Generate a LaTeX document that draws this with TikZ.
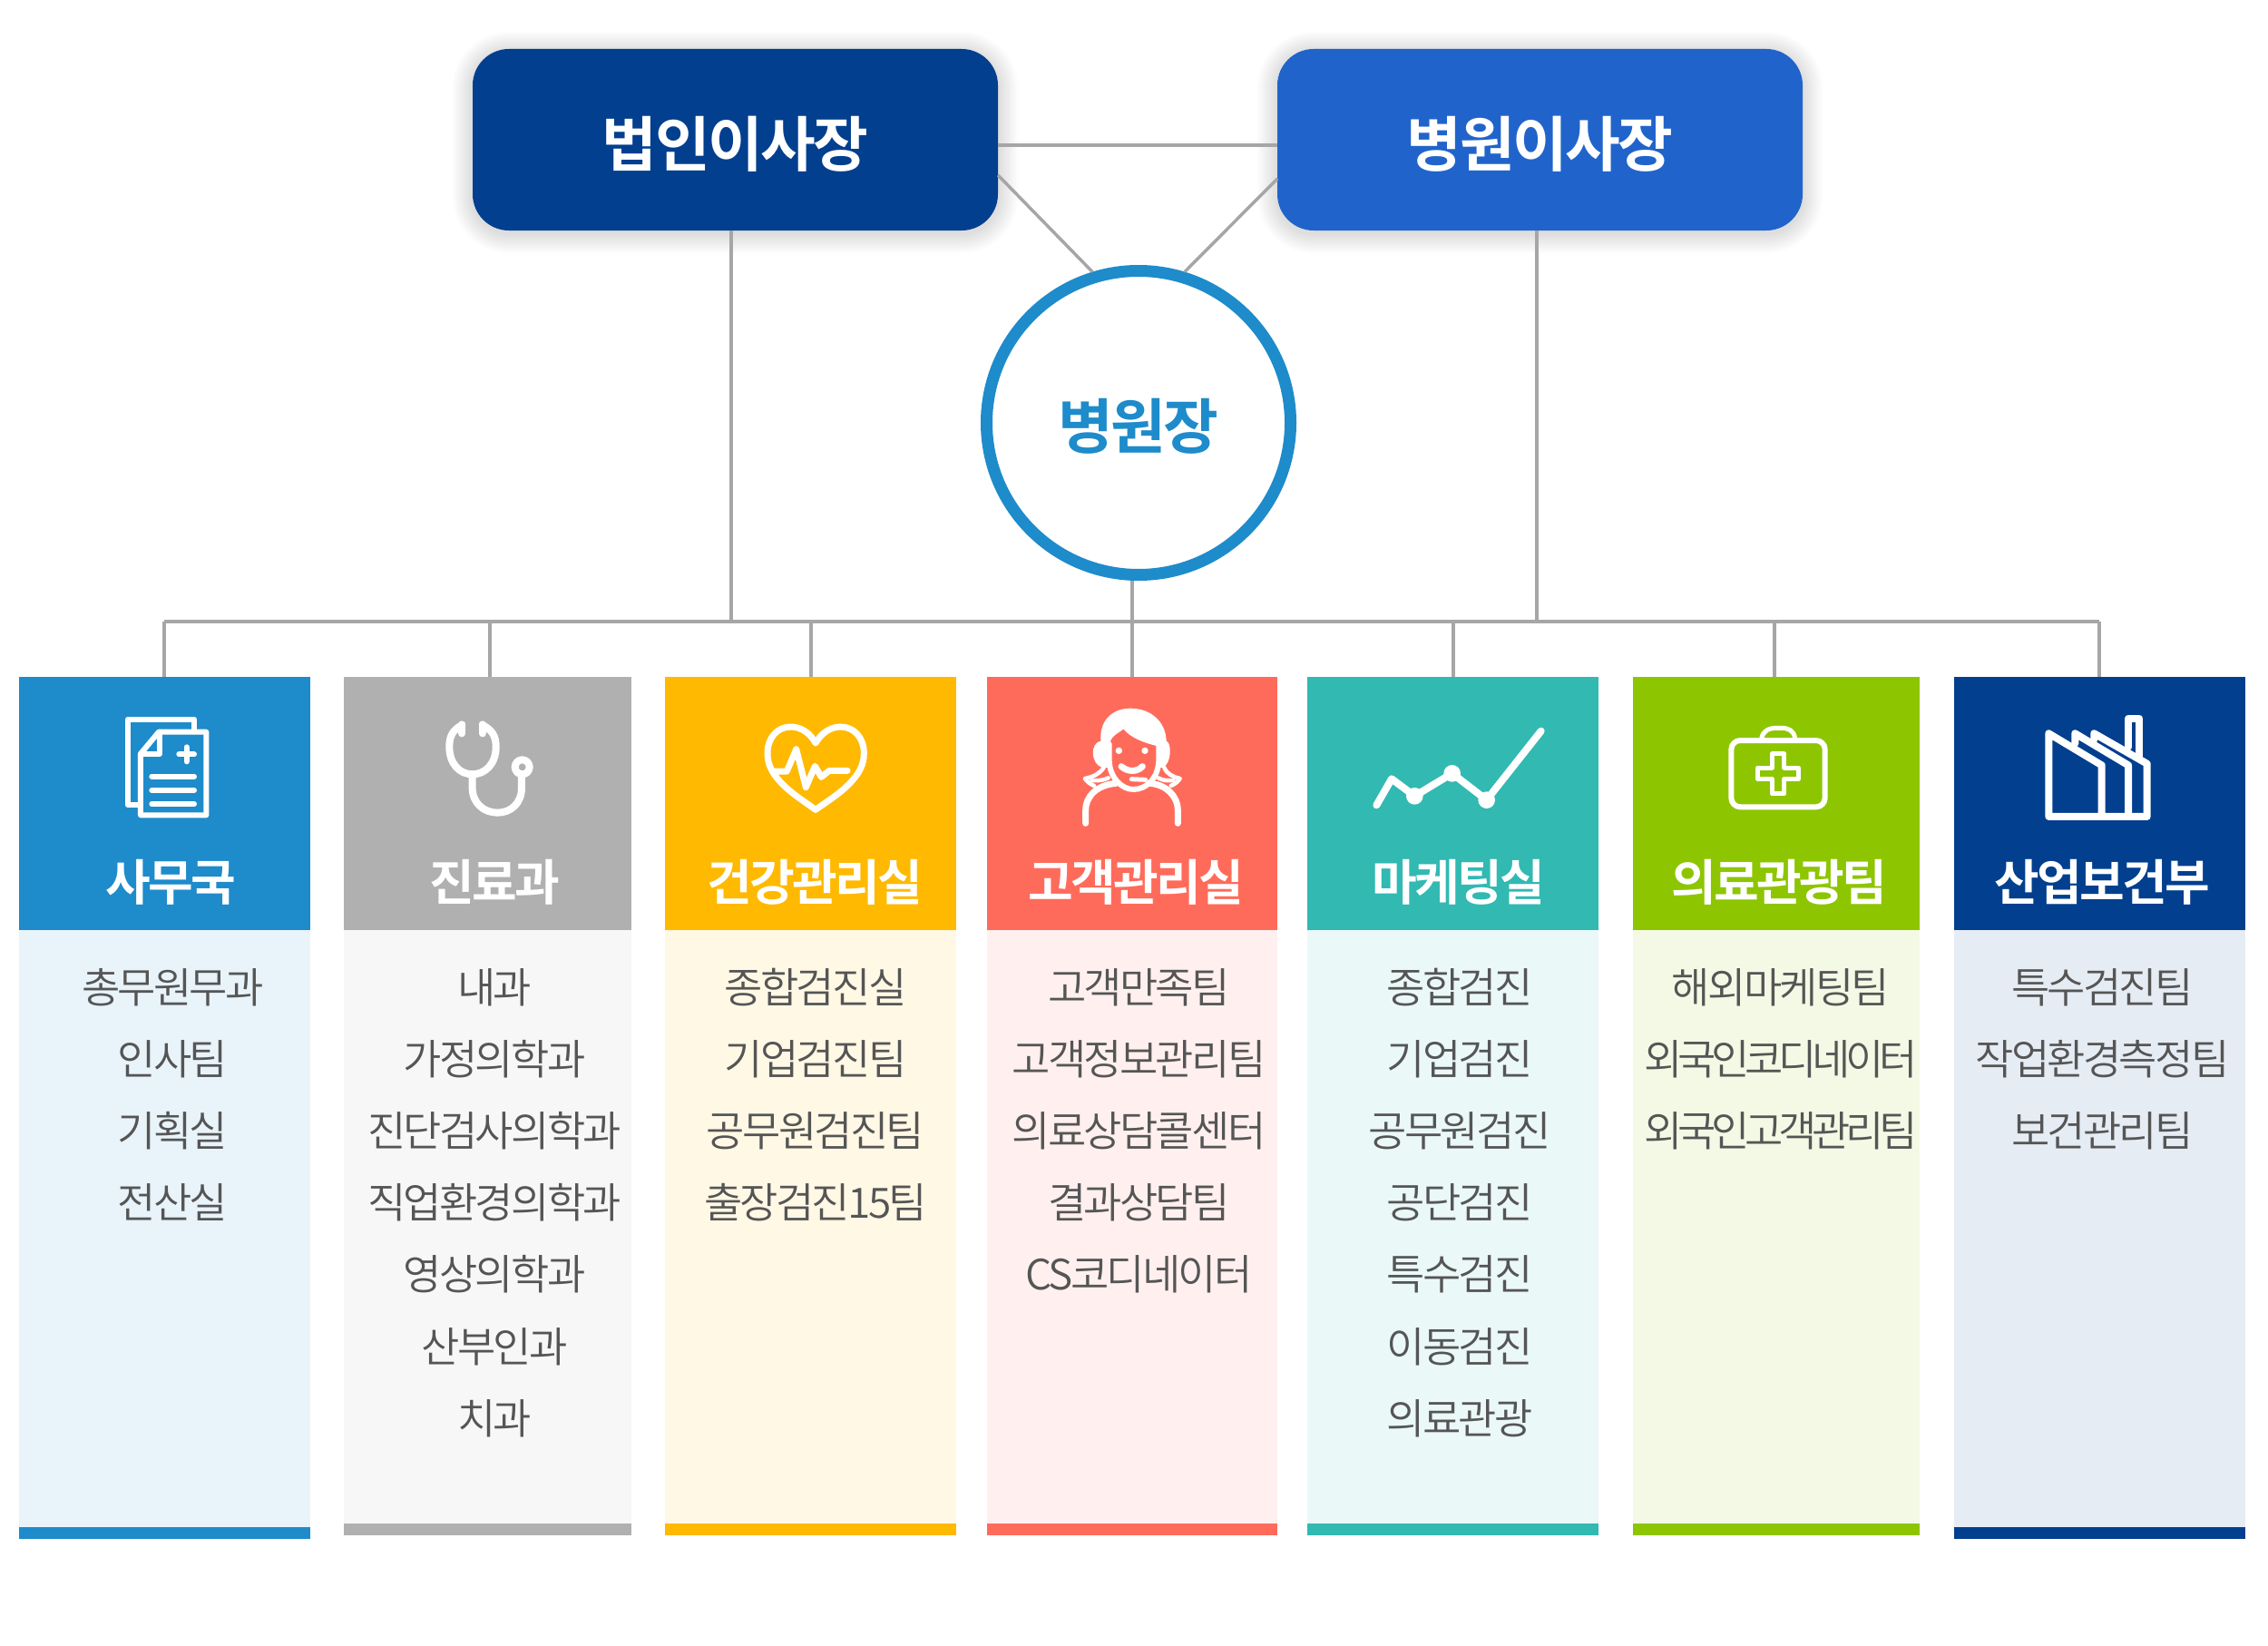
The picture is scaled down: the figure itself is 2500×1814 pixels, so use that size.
\documentclass[tikz,border=0pt]{standalone}
\usepackage{fontspec}
\newfontfamily\itemfont{Noto Sans CJK KR DemiLight}[LetterSpace=-6]
\newfontfamily\tightfont{Noto Sans CJK KR DemiLight}[LetterSpace=-11.5]
\newfontfamily\headfont{Noto Sans CJK KR Bold}[LetterSpace=-5]
\newfontfamily\bossfont{Noto Sans CJK KR Bold}[LetterSpace=-4]
\usetikzlibrary{calc}
\definecolor{linegray}{HTML}{A6A6A6}
\definecolor{navy}{HTML}{023F8F}
\definecolor{royal}{HTML}{2064CB}
\definecolor{sky}{HTML}{1E8BCB}
\definecolor{silver}{HTML}{B0B0B0}
\definecolor{amber}{HTML}{FFB900}
\definecolor{coral}{HTML}{FF6B5B}
\definecolor{teal}{HTML}{31B9B2}
\definecolor{lime}{HTML}{8DC600}
\definecolor{itemgray}{HTML}{555555}
\def\softshadow(#1,#2,#3,#4){\foreach \g in {2,4,...,22}{\fill[black,opacity=0.012,rounded corners=40pt+\g pt] (#1-\g,#2-\g+3) rectangle (#3+\g,#4+\g+3);}}
\tikzset{
	link/.style={draw=linegray,line width=3.5pt},
	boss/.style={rectangle,rounded corners=40pt,text=white,minimum width=579pt,minimum height=200pt,inner sep=0pt,outer sep=0pt,text height=68pt,text depth=8pt,font=\fontsize{66}{66}\bossfont},
	head/.style={rectangle,inner sep=0pt,outer sep=0pt,minimum height=279pt,anchor=north},
	title/.style={text=white,inner sep=0pt,text height=.88em,text depth=.12em,font=\fontsize{54}{54}\headfont},
	item/.style={text=itemgray,inner sep=0pt,text height=.88em,text depth=.12em,font=\fontsize{46}{46}\itemfont},
	icon/.style={draw=white,line cap=round,line join=round,line width=#1}
}
\begin{document}
\begin{tikzpicture}[x=1pt,y=-1pt]
			\useasboundingbox (0,0) rectangle (2500,1814);
			
			\softshadow(521,54,1100,254)
			\softshadow(1408,54,1987,254)
			
			% top of the chart
			\node[boss,fill=navy] (corp) at (810.5,154) {법인이사장};
			\node[boss,fill=royal] (chair) at (1697.5,154) {병원이사장};
			\node[circle,draw=sky,line width=13pt,fill=white,minimum size=335pt,inner sep=0pt,text=sky,text height=64pt,text depth=8pt,font=\fontsize{66}{66}\bossfont] (director) at (1255,466) {병원장};
			
			% the seven heads
			\node[head,fill=sky,minimum width=321pt] (head1) at (181.5,746) {};
			\node[head,fill=silver,minimum width=317pt] (head2) at (537.5,746) {};
			\node[head,fill=amber,minimum width=321pt] (head3) at (893.5,746) {};
			\node[head,fill=coral,minimum width=320.5pt] (head4) at (1247.75,746) {};
			\node[head,fill=teal,minimum width=320.5pt] (head5) at (1601.25,746) {};
			\node[head,fill=lime,minimum width=316pt] (head6) at (1958,746) {};
			\node[head,fill=navy,minimum width=321pt] (head7) at (2314,746) {};
			
			% bus and its drops
			\coordinate (drop1) at (181,685);
			\coordinate (drop2) at (540,685);
			\coordinate (drop3) at (894,685);
			\coordinate (drop4) at (1248,685);
			\coordinate (drop5) at (1602,685);
			\coordinate (drop6) at (1956,685);
			\coordinate (drop7) at (2314,685);
			\coordinate (corpdrop) at (806,685);
			\coordinate (chairdrop) at (1694,685);
			\coordinate (corpside) at (1100,193);
			\coordinate (chairside) at (1408,197);
			
			\draw[link,line width=4.5pt] (corp.east |- 0,160) -- (chair.west |- 0,160);
			\draw[link] (corpside) -- (director.107);
			\draw[link] (chairside) -- (director.73);
			\draw[link] (corpdrop |- corp.south) -- (corpdrop);
			\draw[link] (chairdrop |- chair.south) -- (chairdrop);
			\draw[link] (drop4 |- director.south) -- (drop4);
			\draw[link,line width=4.5pt] (drop1) -- (drop7);
			\foreach \n in {1,...,7}{
				\draw[link] (drop\n) -- (drop\n |- head\n.north);
			}
			
			% bodies and feet
			\fill[color=sky!10] (21,1025) rectangle (342,1683);
			\fill[color=sky] (21,1683) rectangle (342,1696);
			\fill[color=silver!10] (379,1025) rectangle (696,1679);
			\fill[color=silver] (379,1679) rectangle (696,1692);
			\fill[color=amber!10] (733,1025) rectangle (1054,1679);
			\fill[color=amber] (733,1679) rectangle (1054,1692);
			\fill[color=coral!10] (1087.5,1025) rectangle (1408,1679);
			\fill[color=coral] (1087.5,1679) rectangle (1408,1692);
			\fill[color=teal!10] (1441,1025) rectangle (1761.5,1679);
			\fill[color=teal] (1441,1679) rectangle (1761.5,1692);
			\fill[color=lime!10] (1800,1025) rectangle (2116,1679);
			\fill[color=lime] (1800,1679) rectangle (2116,1692);
			\fill[color=navy!10] (2153.5,1025) rectangle (2474.5,1683);
			\fill[color=navy] (2153.5,1683) rectangle (2474.5,1696);
			
			% titles
			\node[title] (title1) at (188,989) {사무국};
			\node[title] (title2) at (545,989) {진료과};
			\node[title] (title3) at (898.5,989) {건강관리실};
			\node[title] (title4) at (1252.5,989) {고객관리실};
			\node[title] (title5) at (1607.5,989) {마케팅실};
			\node[title] (title6) at (1961.5,989) {의료관광팀};
			\node[title] (title7) at (2317,989) {산업보건부};
			
			% lists
			\foreach \t [count=\i] in {총무원무과,인사팀,기획실,전산실}{
				\node[item] (a\i) at (190.5,{1022+79.2*\i}) {\t};
			}
			\foreach \t [count=\i] in {내과,가정의학과,진단검사의학과,직업환경의학과,영상의학과,산부인과,치과}{
				\node[item] (b\i) at (545,{1022+79.2*\i}) {\t};
			}
			\foreach \t [count=\i] in {종합검진실,기업검진팀,공무원검진팀,출장검진15팀}{
				\node[item] (c\i) at (899,{1022+79.2*\i}) {\t};
			}
			\foreach \t [count=\i] in {고객만족팀,고객정보관리팀,의료상담콜센터,결과상담팀,CS코디네이터}{
				\node[item] (d\i) at (1255.5,{1022+79.2*\i}) {\t};
			}
			\foreach \t [count=\i] in {종합검진,기업검진,공무원검진,공단검진,특수검진,이동검진,의료관광}{
				\node[item] (e\i) at (1609,{1022+79.2*\i}) {\t};
			}
			\node[item] (f1) at (1963,1101.2) {해외마케팅팀};
			\node[item,font=\fontsize{46}{46}\tightfont] (f2) at (1963,1180.4) {외국인코디네이터};
			\node[item,font=\fontsize{46}{46}\tightfont] (f3) at (1963,1259.6) {외국인고객관리팀};
			\foreach \t [count=\i] in {특수검진팀,작업환경측정팀,보건관리팀}{
				\node[item] (g\i) at (2317.5,{1022+79.2*\i}) {\t};
			}
			
			% papers
			\begin{scope}[shift={(120,780)},x=0.3333pt,y=-0.3333pt]
				\draw[icon=6pt] (100,322) -- (62,322) -- (62,38) -- (282,38) -- (282,78);
				\draw[icon=6pt] (105,152) -- (165,80) -- (322,80) -- (322,355) -- (105,355) -- cycle;
				\draw[icon=6pt] (105,152) -- (168,152) -- (168,80);
				\draw[icon=6pt] (257,130) -- (257,178) (232,154) -- (282,154);
				\draw[icon=6pt] (142,227) -- (282,227) (142,273) -- (282,273) (142,318) -- (282,318);
			\end{scope}
			
			% stethoscope
			\begin{scope}[shift={(480,785)},x=0.3333pt,y=-0.3333pt]
				\draw[icon=8pt] (88,40) -- (88,70);
				\draw[icon=8pt] (155,40) -- (155,70);
				\draw[icon=8pt] (88,42) .. controls (55,60) and (46,80) .. (46,115) .. controls (46,170) and (80,205) .. (122,205) .. controls (165,205) and (200,170) .. (200,115) .. controls (200,80) and (190,60) .. (155,42);
				\draw[icon=8pt] (122,205) -- (122,250) .. controls (122,300) and (160,332) .. (205,332) .. controls (250,332) and (285,300) .. (285,250) -- (285,208);
				\draw[icon=8pt] (287,181) circle (24);
			\end{scope}
			
			% heart
			\begin{scope}[shift={(830,785)},x=0.3333pt,y=-0.3333pt]
				\draw[icon=7pt] (207,102) .. controls (190,70) and (160,48) .. (125,48) .. controls (80,48) and (48,85) .. (48,135) .. controls (48,175) and (65,205) .. (100,240) .. controls (130,270) and (170,295) .. (207,322) .. controls (245,295) and (285,270) .. (315,240) .. controls (350,205) and (367,175) .. (367,135) .. controls (367,85) and (335,48) .. (290,48) .. controls (255,48) and (225,70) .. cycle;
				\draw[icon=7pt] (65,195) -- (112,195) -- (143,122) -- (175,248) -- (205,178) -- (226,214) -- (252,193) -- (312,193);
			\end{scope}
			
			% woman
			\begin{scope}[shift={(1170,770)},x=0.3333pt,y=-0.3333pt]
				\fill[white] (130,140) .. controls (125,70) and (170,32) .. (228,32) .. controls (295,32) and (345,75) .. (347,140) .. controls (365,145) and (365,215) .. (335,228) -- (322,228) -- (322,158) .. controls (270,145) and (230,130) .. (205,100) .. controls (190,115) and (160,120) .. (158,160) -- (158,228) -- (135,228) .. controls (95,215) and (95,145) .. cycle;
				\draw[icon=6pt] (158,150) -- (158,205) .. controls (160,262) and (200,300) .. (238,300) .. controls (282,300) and (320,262) .. (322,205) -- (322,155);
				\draw[icon=4.5pt] (140,228) .. controls (125,250) and (105,258) .. (78,264) .. controls (85,275) and (95,282) .. (108,288);
				\draw[icon=4.5pt] (100,270) .. controls (120,272) and (140,270) .. (155,262);
				\draw[icon=4.5pt] (340,228) .. controls (350,250) and (368,258) .. (392,264) .. controls (385,275) and (375,282) .. (362,288);
				\draw[icon=4.5pt] (370,270) .. controls (350,272) and (335,270) .. (320,262);
				\draw[icon=7pt] (80,412) -- (80,370) .. controls (80,320) and (120,285) .. (180,280);
				\draw[icon=7pt] (385,412) -- (385,370) .. controls (385,320) and (345,285) .. (295,280);
				\draw[icon=7pt] (198,224) .. controls (220,243) and (250,243) .. (268,224);
				\fill[white] (190,172) circle (11) (276,172) circle (11);
				\draw[icon=5pt] (232,266) -- (278,268);
			\end{scope}
			
			% chart
			\begin{scope}[shift={(1510,790)},x=0.3333pt,y=-0.3333pt]
				\draw[icon=8pt] (22,292) -- (72,205) -- (148,262) -- (272,187) -- (386,275) -- (566,47);
				\fill[white] (148,262) circle (28) (272,187) circle (28) (386,275) circle (28);
			\end{scope}
			
			% first aid kit
			\begin{scope}[shift={(1900,790)},x=0.3333pt,y=-0.3333pt]
				\draw[icon=6pt,rounded corners=10pt] (25,78) rectangle (335,298);
				\draw[icon=5pt] (125,72) .. controls (130,45) and (150,37) .. (175,37) -- (190,37) .. controls (215,37) and (232,45) .. (236,72);
				\draw[icon=5pt] (160,122) -- (200,122) -- (200,168) -- (247,168) -- (247,206) -- (200,206) -- (200,255) -- (160,255) -- (160,206) -- (113,206) -- (113,168) -- (160,168) -- cycle;
			\end{scope}
			
			% factory
			\begin{scope}[shift={(2240,780)},x=0.3333pt,y=-0.3333pt]
				\draw[icon=8pt] (230,360) -- (230,190) -- (55,85) -- (55,360) -- (380,360) -- (380,185) -- (205,85) -- (205,105);
				\draw[icon=8pt] (318,360) -- (318,190) -- (142,85) -- (142,118);
				\draw[icon=8pt] (318,130) -- (318,35) -- (355,35) -- (355,165);
			\end{scope}
		\end{tikzpicture}
\end{document}
